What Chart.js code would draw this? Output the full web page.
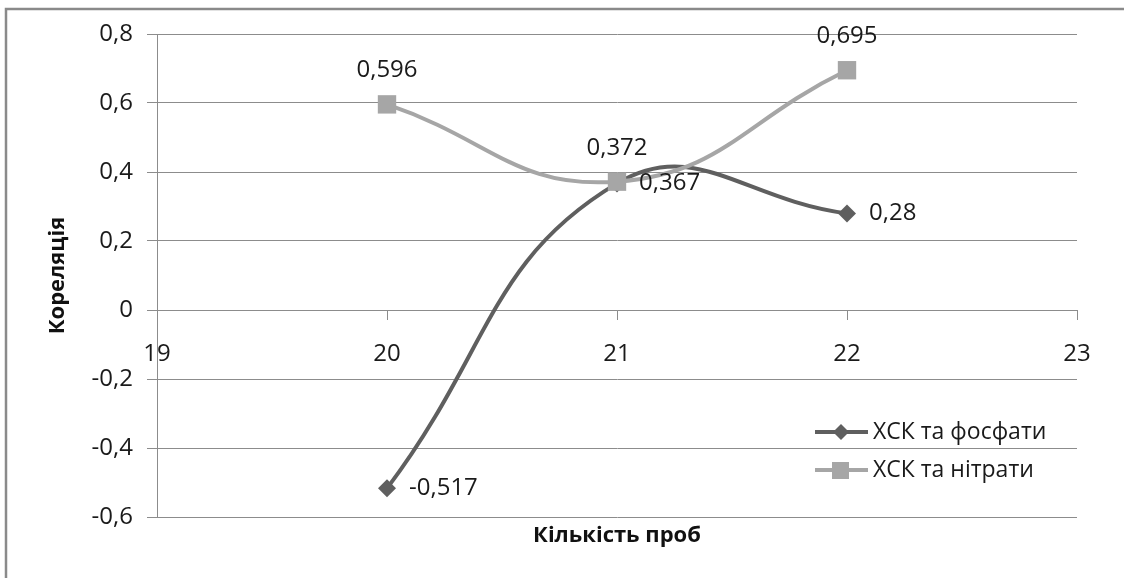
<!DOCTYPE html>
<html>
<head>
<meta charset="utf-8">
<script src="https://cdn.jsdelivr.net/npm/chart.js@4"></script>
<style>
  html, body { margin: 0; padding: 0; background: #fff; }
  #wrap { width: 1124px; height: 578px; position: relative; }
</style>
</head>
<body>
<div id="wrap"><canvas id="my-chart"></canvas></div>
<script>
'use strict';

// ******* DATA ********
let sampleCounts = [20, 21, 22];
let phosphateCorr = [-0.517, 0.367, 0.28];
let nitrateCorr = [0.596, 0.372, 0.695];
let seriesNames = ['ХСК та фосфати', 'ХСК та нітрати'];
let xTickValues = [19, 20, 21, 22, 23];
let yTickValues = [-0.6, -0.4, -0.2, 0, 0.2, 0.4, 0.6, 0.8];
let xTitle = 'Кількість проб';
let yTitle = 'Кореляція';

let darkGray = '#5f5f5f';
let lightGray = '#a6a6a6';
let gridGray = '#8c8c8c';
let fontName = '"Open Sans", "DejaVu Sans", sans-serif';

// ****** HELPERS ******
function toPoints(xs, ys){
  let pts = [];
  for(let i = 0; i < xs.length; i++){
    pts.push({x: xs[i], y: ys[i]});
  }
  return pts;
}

function commaNum(v){
  if(Math.abs(v) < 1e-9) return '0';
  let s = String(Math.round(v * 1000) / 1000);
  return s.replace('.', ',');
}

// frame round the whole picture (only left and top are visible)
let framePlugin = {
  id: 'frame',
  beforeDraw(chart){
    let c = chart.ctx;
    c.save();
    c.fillStyle = '#fff';
    c.fillRect(0, 0, chart.width, chart.height);
    c.strokeStyle = '#8a8a8a';
    c.lineWidth = 2.5;
    c.beginPath();
    c.moveTo(6, chart.height + 5);
    c.lineTo(6, 9);
    c.lineTo(chart.width + 5, 9);
    c.stroke();
    c.restore();
  }
};

// x axis title, centred under the plot area
let xTitlePlugin = {
  id: 'xTitle',
  afterDraw(chart){
    let c = chart.ctx;
    let area = chart.chartArea;
    c.save();
    c.font = 'bold 22px ' + fontName;
    c.fillStyle = '#111';
    c.textAlign = 'center';
    c.textBaseline = 'middle';
    c.fillText(xTitle, (area.left + area.right) / 2, area.bottom + 19);
    c.restore();
  }
};

// value labels next to the points
let labelPlugin = {
  id: 'valueLabels',
  afterDatasetsDraw(chart){
    let c = chart.ctx;
    c.save();
    c.font = '24px ' + fontName;
    c.fillStyle = '#1a1a1a';
    chart.data.datasets.forEach((ds, i) => {
      let meta = chart.getDatasetMeta(i);
      meta.data.forEach((pt, j) => {
        let txt = commaNum(ds.data[j].y);
        c.textBaseline = 'middle';
        if(ds.labelPos === 'right'){
          c.textAlign = 'left';
          c.fillText(txt, pt.x + 22, pt.y);
        } else {
          c.textAlign = 'center';
          c.fillText(txt, pt.x, pt.y - 34);
        }
      });
    });
    c.restore();
  }
};

// Excel style legend: line + marker + text
let legendPlugin = {
  id: 'lineLegend',
  afterDraw(chart){
    let c = chart.ctx;
    let area = chart.chartArea;
    let x0 = area.right - 262;
    let y0 = area.bottom - 85;
    c.save();
    c.font = '23px ' + fontName;
    c.textAlign = 'left';
    c.textBaseline = 'middle';
    chart.data.datasets.forEach((ds, i) => {
      let y = y0 + i * 38;
      c.strokeStyle = ds.borderColor;
      c.lineWidth = 4;
      c.beginPath();
      c.moveTo(x0, y);
      c.lineTo(x0 + 53, y);
      c.stroke();
      c.fillStyle = ds.backgroundColor;
      c.beginPath();
      if(ds.pointStyle === 'rectRot'){
        c.moveTo(x0 + 26, y - 8);
        c.lineTo(x0 + 34, y);
        c.lineTo(x0 + 26, y + 8);
        c.lineTo(x0 + 18, y);
        c.closePath();
        c.fill();
      } else {
        c.fillRect(x0 + 17, y - 8, 17, 17);
      }
      c.fillStyle = '#1a1a1a';
      c.fillText(ds.label, x0 + 58, y);
    });
    c.restore();
  }
};

// ****** CHART ******
let ctx = document.getElementById('my-chart');

let chartObj = {
  type: 'scatter',
  data: {
    datasets: [{
      label: seriesNames[0],
      data: toPoints(sampleCounts, phosphateCorr),
      borderColor: darkGray,
      backgroundColor: darkGray,
      borderWidth: 4,
      showLine: true,
      tension: 0.45,
      pointStyle: 'rectRot',
      pointRadius: 9,
      pointBorderWidth: 0,
      labelPos: 'right',
      order: 1
    },
    {
      label: seriesNames[1],
      data: toPoints(sampleCounts, nitrateCorr),
      borderColor: lightGray,
      backgroundColor: lightGray,
      borderWidth: 4,
      showLine: true,
      tension: 0.45,
      pointStyle: 'rect',
      pointRadius: 13,
      pointBorderWidth: 0,
      labelPos: 'above',
      order: 0
    }]
  },
  options: {
    responsive: true,
    maintainAspectRatio: false,
    animation: false,
    layout: {
      padding: {left: 0, right: 47, top: 34, bottom: 61}
    },
    scales: {
      x: {
        type: 'linear',
        position: {y: 0},
        min: 19,
        max: 23,
        afterBuildTicks(scale){
          scale.ticks = xTickValues.map(v => ({value: v}));
        },
        grid: {
          drawOnChartArea: false,
          drawTicks: true,
          tickLength: 9,
          color: gridGray
        },
        border: {color: gridGray, width: 1},
        ticks: {
          padding: 21,
          color: '#1a1a1a',
          font: {family: fontName, size: 24},
          maxRotation: 0,
          callback: v => String(v)
        }
      },
      y: {
        min: -0.6,
        max: 0.8,
        afterBuildTicks(scale){
          scale.ticks = yTickValues.map(v => ({value: v}));
        },
        afterFit(scale){
          scale.width = 157;
        },
        grid: {
          color: gridGray,
          tickLength: 10
        },
        border: {color: gridGray, width: 1},
        ticks: {
          padding: 14,
          color: '#1a1a1a',
          font: {family: fontName, size: 24},
          callback: v => commaNum(v)
        },
        title: {
          display: true,
          text: yTitle,
          color: '#111',
          font: {family: fontName, size: 22, weight: 'bold'},
          padding: {top: 45, bottom: 0}
        }
      }
    },
    plugins: {
      legend: {display: false},
      tooltip: {enabled: false},
      title: {display: false}
    }
  },
  plugins: [framePlugin, labelPlugin, legendPlugin, xTitlePlugin]
};

new Chart(ctx, chartObj);
</script>
</body>
</html>
